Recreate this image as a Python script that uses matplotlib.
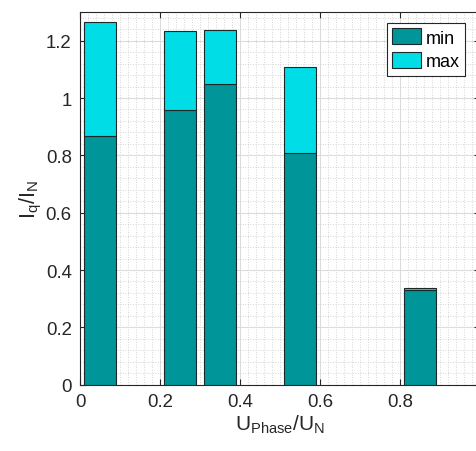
import matplotlib.pyplot as plt
from matplotlib.ticker import MultipleLocator, FormatStrFormatter

plt.rcParams['font.family'] = ['Liberation Sans', 'DejaVu Sans']
plt.rcParams['mathtext.fontset'] = 'custom'
plt.rcParams['mathtext.rm'] = 'Liberation Sans'

# U_Phase/U_N positions and I_q/I_N values
u_phase = [0.05, 0.25, 0.35, 0.55, 0.85]
iq_min = [0.868, 0.957, 1.048, 0.807, 0.330]
iq_max = [1.264, 1.233, 1.237, 1.107, 0.338]

bar_width = 0.08
col_min = '#009599'
col_max = '#00dde6'

fig = plt.figure(figsize=(4.77, 4.52), dpi=100)
ax = fig.add_axes([80 / 477, 66.3 / 452, 400 / 477, 372.7 / 452])

extra = [mx - mn for mx, mn in zip(iq_max, iq_min)]
ax.bar(u_phase, iq_min, width=bar_width, color=col_min, edgecolor='#1a2a2a',
       linewidth=0.8, label='min', zorder=3)
ax.bar(u_phase, extra, bottom=iq_min, width=bar_width, color=col_max,
       edgecolor='#1a2a2a', linewidth=0.8, label='max', zorder=3)

ax.set_xlim(0, 1)
ax.set_ylim(0, 1.3)
ax.xaxis.set_major_locator(MultipleLocator(0.2))
ax.xaxis.set_minor_locator(MultipleLocator(0.02))
ax.yaxis.set_major_locator(MultipleLocator(0.2))
ax.yaxis.set_minor_locator(MultipleLocator(0.04))
ax.xaxis.set_major_formatter(FormatStrFormatter('%g'))
ax.yaxis.set_major_formatter(FormatStrFormatter('%g'))

ax.grid(True, which='major', color='#dcdcdc', linewidth=0.8, zorder=0)
ax.grid(True, which='minor', color='#c8c8c8', linestyle=(0, (1, 2)),
        linewidth=0.6, zorder=0)
ax.set_axisbelow(True)

ax.tick_params(which='major', direction='in', length=4, width=0.8,
               top=True, right=True, labelsize=13.4, colors='#262626', pad=6)
ax.tick_params(which='minor', length=0)
for s in ax.spines.values():
    s.set_color('#262626')
    s.set_linewidth(0.8)

ax.set_xlabel(r'U$_{\mathrm{Phase}}$/U$_{\mathrm{N}}$', fontsize=15, color='#262626',
              labelpad=2)
ax.set_ylabel(r'I$_{\mathrm{q}}$/I$_{\mathrm{N}}$', fontsize=15.5, color='#262626',
              labelpad=1)

leg = ax.legend(loc='upper right', fontsize=13, frameon=True, fancybox=False,
                edgecolor='#262626', framealpha=1, handlelength=1.6,
                handleheight=1.0, handletextpad=0.25, borderpad=0.3,
                labelspacing=0.3, borderaxespad=0.6,
                bbox_to_anchor=(0.99, 1.0))
leg.get_frame().set_linewidth(0.8)

fig.savefig('out.png', dpi=100)
